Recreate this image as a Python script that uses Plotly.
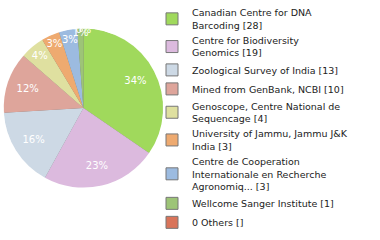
import plotly.graph_objects as go

labels = ["Canadian Centre for DNA<br>Barcoding [28]",
          "Centre for Biodiversity<br>Genomics [19]",
          "Zoological Survey of India [13]",
          "Mined from GenBank, NCBI [10]",
          "Genoscope, Centre National de<br>Sequencage [4]",
          "University of Jammu, Jammu J&K<br>India [3]",
          "Centre de Cooperation<br>Internationale en Recherche<br>Agronomiq... [3]",
          "Wellcome Sanger Institute [1]",
          "0 Others []"]
values = [28, 19, 13, 10, 4, 3, 3, 1, 0]
colors = ["#a0d95c", "#dcbade", "#cdd9e5", "#dea59b", "#dfe0a0",
          "#eeaa70", "#9cbbe0", "#9dc477", "#d9745a"]

total = sum(values)
texts = [f"{int(v * 100 // total)}%" for v in values]
domain = dict(x=[0.013, 0.426], y=[0.22, 0.88])
cover = dict(x=[0.010, 0.429], y=[0.215, 0.885])

fig = go.Figure()
# legend source (grey outlined swatches); hidden below the cover pie
fig.add_trace(go.Pie(
    labels=labels, values=values, sort=False, direction="clockwise", rotation=0,
    marker=dict(colors=colors, line=dict(width=1, color="#777")),
    textinfo="none", domain=domain, showlegend=True, hoverinfo="skip",
))
fig.add_trace(go.Pie(
    labels=labels, values=values, sort=False, direction="clockwise", rotation=0,
    marker=dict(colors=colors, line=dict(width=0)),
    textinfo="none", domain=cover, showlegend=False, hoverinfo="skip",
))
# transparent ring used only to place the percentage labels near the rim
fig.add_trace(go.Pie(
    labels=labels, values=values, sort=False, direction="clockwise", rotation=0,
    hole=0.5, marker=dict(colors=["rgba(0,0,0,0)"] * len(values), line=dict(width=0)),
    text=texts, textinfo="text", textposition="inside",
    insidetextorientation="horizontal",
    textfont=dict(family="DejaVu Sans", size=10, color="white"),
    domain=domain, showlegend=False, hoverinfo="skip",
))
fig.update_layout(
    width=380, height=240, margin=dict(l=0, r=0, t=0, b=0),
    paper_bgcolor="white", plot_bgcolor="white",
    legend=dict(x=0.4, y=1.0, xanchor="left", yanchor="top",
                font=dict(family="DejaVu Sans", size=9.5, color="#222"),
                tracegroupgap=0, itemwidth=30, traceorder="normal",
                bgcolor="rgba(0,0,0,0)"),
    uniformtext=dict(minsize=10, mode="show"),
)
fig.write_html("out.html")
